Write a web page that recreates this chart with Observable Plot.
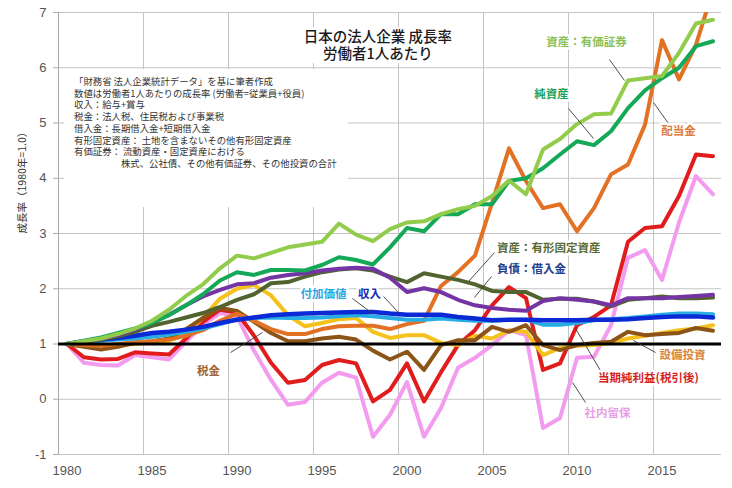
<!DOCTYPE html>
<html><head><meta charset="utf-8">
<script src="https://cdn.jsdelivr.net/npm/d3@7"></script>
<script src="https://cdn.jsdelivr.net/npm/@observablehq/plot@0.6"></script>
<style>
body{margin:0;background:#fff;}
#wrap{position:relative;width:732px;height:488px;overflow:hidden;}
.box{position:absolute;background:#fff;font-family:"Noto Sans CJK JP",sans-serif;}
#title{left:300px;top:27px;width:156px;height:36px;text-align:center;font-size:14.5px;line-height:17px;color:#1a1a1a;font-weight:500;white-space:pre;}
#note{left:64px;top:69px;width:284px;height:138px;box-sizing:border-box;padding:7px 0 0 10px;font-size:9.4px;line-height:11.7px;color:#333;white-space:pre;}
</style></head><body><div id="wrap"></div>
<script>
// ---- data (growth rate per worker, 1980 = 1.0) ----
const years = d3.range(1980, 2019);
const xTickYears = [1980, 1985, 1990, 1995, 2000, 2005, 2010, 2015];
const yTickValues = [-1, 0, 1, 2, 3, 4, 5, 6, 7];

const securities = [1.0,1.05,1.1,1.18,1.28,1.42,1.62,1.87,2.08,2.37,2.6,2.55,2.65,2.75,2.8,2.85,3.18,2.98,2.86,3.08,3.2,3.22,3.35,3.44,3.5,3.68,3.96,3.71,4.52,4.71,4.98,5.16,5.17,5.77,5.81,5.85,6.27,6.8,6.87];
const netAssets = [1.0,1.06,1.12,1.2,1.28,1.38,1.52,1.7,1.9,2.15,2.3,2.25,2.34,2.34,2.33,2.43,2.57,2.52,2.44,2.75,3.1,3.04,3.35,3.35,3.53,3.53,3.95,4.0,4.18,4.43,4.67,4.6,4.85,5.27,5.59,5.81,6.0,6.39,6.48];
const dividends = [1.0,0.98,0.97,1.0,1.03,1.05,1.08,1.15,1.25,1.42,1.55,1.42,1.27,1.18,1.18,1.27,1.32,1.33,1.33,1.27,1.36,1.42,2.05,2.3,2.6,3.55,4.54,3.95,3.46,3.53,3.04,3.46,4.07,4.25,4.97,6.5,5.79,6.42,7.4];
const netIncome = [1.0,0.76,0.72,0.73,0.85,0.83,0.81,1.1,1.4,1.62,1.57,1.15,0.66,0.3,0.35,0.62,0.71,0.65,-0.04,0.17,0.65,-0.04,0.49,0.98,1.25,1.7,2.03,1.83,0.53,0.65,1.34,1.49,1.7,2.85,3.1,3.13,3.68,4.43,4.4];
const retained = [1.0,0.66,0.62,0.61,0.8,0.76,0.72,1.04,1.35,1.56,1.5,0.88,0.35,-0.1,-0.05,0.3,0.48,0.39,-0.68,-0.28,0.31,-0.68,-0.16,0.57,0.75,0.98,1.25,1.16,-0.52,-0.34,0.75,0.77,1.34,2.56,2.7,2.16,3.2,4.04,3.71];
const tangible = [1.0,1.04,1.08,1.14,1.22,1.33,1.4,1.48,1.56,1.67,1.8,1.9,2.1,2.12,2.22,2.3,2.35,2.37,2.33,2.22,2.12,2.28,2.22,2.16,2.08,1.96,1.94,1.94,1.8,1.82,1.82,1.77,1.68,1.8,1.83,1.86,1.83,1.83,1.84];
const borrowings = [1.0,1.05,1.1,1.16,1.26,1.38,1.53,1.7,1.86,1.98,2.08,2.1,2.2,2.25,2.28,2.33,2.36,2.38,2.36,2.2,1.94,2.01,1.94,1.8,1.7,1.65,1.62,1.6,1.78,1.83,1.8,1.77,1.7,1.83,1.83,1.83,1.85,1.87,1.89];
const income = [1.0,1.05,1.08,1.11,1.15,1.2,1.22,1.26,1.31,1.38,1.44,1.48,1.52,1.54,1.55,1.56,1.57,1.58,1.58,1.55,1.53,1.53,1.53,1.49,1.46,1.43,1.44,1.44,1.43,1.43,1.43,1.44,1.44,1.45,1.47,1.49,1.5,1.5,1.48];
const valueAdded = [1.0,1.03,1.06,1.08,1.1,1.13,1.17,1.22,1.28,1.36,1.45,1.47,1.48,1.47,1.47,1.48,1.5,1.52,1.5,1.47,1.44,1.44,1.46,1.44,1.42,1.42,1.44,1.44,1.35,1.35,1.38,1.43,1.45,1.47,1.5,1.53,1.55,1.55,1.54];
const capex = [1.0,0.97,0.95,0.98,1.0,1.03,1.06,1.18,1.48,1.82,2.0,2.07,1.88,1.52,1.32,1.38,1.45,1.47,1.22,1.11,1.16,1.16,1.02,0.98,1.15,1.1,1.25,1.22,0.8,0.93,0.97,0.98,1.02,1.1,1.15,1.2,1.25,1.28,1.34];
const tax = [1.0,0.95,0.9,0.95,1.02,1.05,1.1,1.27,1.47,1.65,1.6,1.4,1.2,1.05,1.05,1.1,1.13,1.08,0.88,0.72,0.86,0.53,0.98,1.07,1.07,1.31,1.22,1.34,0.98,0.89,0.98,1.02,1.04,1.22,1.16,1.18,1.2,1.29,1.24];

const seriesNames = ["社内留保","当期純利益(税引後)","設備投資","税金","配当金","付加価値","収入","資産：有形固定資産","負債：借入金","純資産","資産：有価証券"];
const seriesValues = [retained, netIncome, capex, tax, dividends, valueAdded, income, tangible, borrowings, netAssets, securities];

// ---- styles ----
const lineColors = {"社内留保":"#f29bef","当期純利益(税引後)":"#e01c1c","設備投資":"#f5c21b","税金":"#8c5418","配当金":"#e37124","付加価値":"#27ade3","収入":"#0b2ad6","資産：有形固定資産":"#526330","負債：借入金":"#7434a4","純資産":"#14a857","資産：有価証券":"#93cc4c"};
const labelColors = {"社内留保":"#e79ee6","当期純利益(税引後)":"#d61f1f","設備投資":"#d8843d","税金":"#a2642e","配当金":"#df7b36","付加価値":"#29a7e0","収入":"#1a2ab8","資産：有形固定資産":"#5a6a34","負債：借入金":"#223e8e","純資産":"#1ca25c","資産：有価証券":"#8cc152"};

// label placement (data space) and leader lines
const labelPos = [
  {name:"資産：有価証券", x:2010.56, y:6.457, anchor:"middle", lx1:2011.91, ly1:6.149, lx2:2012.79, ly2:5.769},
  {name:"純資産", x:2008.5, y:5.516, anchor:"middle", lx1:2009.5, ly1:5.262, lx2:2010.97, ly2:4.719},
  {name:"配当金", x:2015.97, y:4.846, anchor:"middle", lx1:2014.5, ly1:5.371, lx2:2015.38, ly2:4.991},
  {name:"資産：有形固定資産", x:2005.3, y:2.728, anchor:"start", lx1:2005.15, ly1:2.656, lx2:2003.62, ly2:2.131},
  {name:"負債：借入金", x:2005.3, y:2.348, anchor:"start", lx1:2004.97, ly1:2.222, lx2:2003.97, ly2:1.842},
  {name:"付加価値", x:1995.09, y:1.896, anchor:"middle", lx1:1996.79, ly1:1.824, lx2:1997.97, ly2:1.552},
  {name:"収入", x:1997.79, y:1.896, anchor:"middle", lx1:1998.62, ly1:1.86, lx2:1999.5, ly2:1.57},
  {name:"税金", x:1988.32, y:0.502, anchor:"middle", lx1:1989.62, ly1:0.846, lx2:1991.5, ly2:1.208},
  {name:"設備投資", x:2016.2, y:0.792, anchor:"middle", lx1:2014.62, ly1:0.846, lx2:2013.32, ly2:1.063},
  {name:"当期純利益(税引後)", x:2014.2, y:0.376, anchor:"middle", lx1:2011.38, ly1:0.52, lx2:2009.91, ly2:1.281},
  {name:"社内留保", x:2011.79, y:-0.258, anchor:"middle", lx1:2010.5, ly1:-0.059, lx2:2009.74, ly2:0.303}
];

const table = seriesNames.flatMap((name, i) => years.map((year, j) => ({name, year, value: seriesValues[i][j]})));

const cjk = "'Noto Sans CJK JP', sans-serif";
const marks = [
  Plot.ruleY(yTickValues, {stroke:"#c4c4c4", strokeWidth:1}),
  Plot.ruleX(xTickYears.slice(1).map(y => y - 0.5), {stroke:"#c4c4c4", strokeWidth:1}),
  Plot.ruleX([xTickYears[0] - 0.5], {stroke:"#a8a8a8", strokeWidth:1}),
  Plot.axisY({ticks: yTickValues, tickSize:5, tickPadding:7, tickFormat: d => String(d), stroke:"#a8a8a8", label:null}),
  Plot.axisX({ticks: xTickYears, tickSize:0, tickPadding:11, tickFormat: d => String(d), label:null}),
  Plot.text(["成長率（1980年=1.0）"], {frameAnchor:"left", text: d => d, rotate:-90, dx:-36, fontSize:10.5, fontFamily:cjk, fill:"#333"})
];
for (const name of seriesNames) {
  marks.push(Plot.line(table.filter(d => d.name === name), {x:"year", y:"value", stroke: lineColors[name], strokeWidth: name === "収入" ? 4.5 : 4, clip:true, strokeLinejoin:"round"}));
}
marks.push(Plot.ruleY([1], {stroke:"#000", strokeWidth:3}));
marks.push(Plot.link(labelPos, {x1:"lx1", y1:"ly1", x2:"lx2", y2:"ly2", stroke:"#3a3a3a", strokeWidth:0.9}));
for (const p of labelPos) {
  marks.push(Plot.text([p], {x:"x", y:"y", text:"name", textAnchor:p.anchor, fill: labelColors[p.name], fontSize:11.5, fontWeight:"bold", fontFamily:cjk, stroke:"white", strokeWidth:5}));
}

const chart = Plot.plot({
  width:732, height:488,
  marginLeft:58, marginRight:11, marginTop:12, marginBottom:34,
  x:{domain:[1979.5, 2018.5]},
  y:{domain:[-1, 7]},
  style:{fontFamily:"'Liberation Sans', Arial, sans-serif", fontSize:"13px", color:"#555", background:"white"},
  marks
});
const wrap = document.getElementById("wrap");
wrap.appendChild(chart);

const titleLines = ["日本の法人企業 成長率", "労働者1人あたり"];
const title = document.createElement("div");
title.className = "box"; title.id = "title";
title.textContent = titleLines.join("\n");
wrap.appendChild(title);

const noteLines = [
  "「財務省 法人企業統計データ」を基に筆者作成",
  "数値は労働者1人あたりの成長率 (労働者=従業員+役員)",
  "収入：給与+賞与",
  "税金：法人税、住民税および事業税",
  "借入金：長期借入金+短期借入金",
  "有形固定資産： 土地を含まないその他有形固定資産",
  "有価証券： 流動資産・固定資産における",
  "　　　　　株式、公社債、その他有価証券、その他投資の合計"
];
const note = document.createElement("div");
note.className = "box"; note.id = "note";
note.textContent = noteLines.join("\n");
wrap.appendChild(note);
</script>
</body></html>
